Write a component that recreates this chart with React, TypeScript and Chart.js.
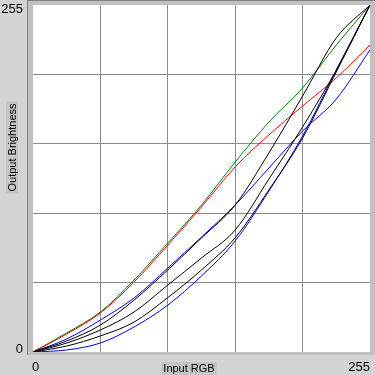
import React, { useEffect, useRef } from "react";
import { Chart, registerables } from "chart.js";

Chart.register(...registerables);

// Input RGB sample positions
const inputValues = [0, 25.5, 51, 76.5, 102, 127.5, 153, 178.5, 204, 229.5, 255];

// Output brightness for each curve
const greenCurve = [0, 14.0, 29.4, 52.9, 80.1, 108.0, 139.6, 169.0, 194.0, 225.6, 255];
const redCurve = [0, 13.2, 28.7, 51.4, 78.6, 106.6, 136.0, 159.5, 180.8, 201.4, 225.6];
const blueUpperCurve = [0, 9.6, 23.5, 39.7, 61.7, 84.5, 108.0, 135.2, 162.4, 185.9, 222];
const blueLowerCurve = [0, 1.5, 6.6, 18.4, 34.5, 55.9, 81.6, 118.3, 158.7, 207.2, 255];
const blackCurve1 = [0, 8.1, 19.8, 38.2, 60.3, 83.8, 108.0, 146.3, 188.1, 230.8, 255];
const blackCurve2 = [0, 6.6, 16.2, 29.4, 49.2, 69.1, 89.7, 127.1, 165.4, 207.2, 255];
const blackCurve3 = [0, 4.4, 11.8, 22.0, 40.0, 60.3, 84.0, 119.1, 157.3, 205.8, 255];

const axisTickLabels = ["0", "255"];
const xAxisTitle = "Input RGB";
const yAxisTitle = "Output Brightness";

const toPoints = (arr: number[]) => inputValues.map((x, i) => ({ x, y: arr[i] }));

const framePlugin = {
  id: "framePlugin",
  beforeDraw(chart: any) {
    const { ctx, chartArea, width, height } = chart;
    ctx.save();
    ctx.fillStyle = "#d4d4d4";
    ctx.fillRect(0, 0, width, height);
    ctx.fillStyle = "#c0c0c0";
    ctx.fillRect(chartArea.left - 6, 0, width - (chartArea.left - 6), chartArea.bottom + 3);
    ctx.fillStyle = "#808080";
    ctx.fillRect(chartArea.left - 6, 0, 1, chartArea.bottom + 3);
    ctx.fillRect(chartArea.left - 6, 0, width - (chartArea.left - 6), 1);
    ctx.fillStyle = "#ffffff";
    ctx.fillRect(chartArea.left, chartArea.top, chartArea.right - chartArea.left, chartArea.bottom - chartArea.top);
    ctx.restore();
  },
  afterDraw(chart: any) {
    const { ctx, scales } = chart;
    const xs = scales.x;
    const ys = scales.y;
    ctx.save();
    ctx.fillStyle = "#000000";
    ctx.font = "13px 'Liberation Sans'";
    ctx.textAlign = "right";
    ctx.textBaseline = "alphabetic";
    ctx.fillText(axisTickLabels[1], 23, ys.getPixelForValue(255) + 8);
    ctx.fillText(axisTickLabels[0], 23, ys.getPixelForValue(0) + 1);
    ctx.textAlign = "left";
    ctx.fillText(axisTickLabels[0], xs.getPixelForValue(0) - 1, 371);
    ctx.textAlign = "right";
    ctx.fillText(axisTickLabels[1], xs.getPixelForValue(255), 371);

    ctx.font = "11px 'Liberation Sans'";
    const xw = ctx.measureText(xAxisTitle).width;
    const xc = 189;
    ctx.fillStyle = "#c4c4c4";
    ctx.fillRect(xc - xw / 2 - 2, 362, xw + 4, 13);
    ctx.fillStyle = "#000000";
    ctx.textAlign = "center";
    ctx.textBaseline = "alphabetic";
    ctx.fillText(xAxisTitle, xc, 372);

    const yw = ctx.measureText(yAxisTitle).width;
    const yc = 147.5;
    ctx.fillStyle = "#c4c4c4";
    ctx.fillRect(6, yc - yw / 2 - 2, 12, yw + 4);
    ctx.translate(16, yc);
    ctx.rotate(-Math.PI / 2);
    ctx.fillStyle = "#000000";
    ctx.fillText(yAxisTitle, 0, 0);
    ctx.restore();
  },
};

const gridColor = (c: any) =>
  c.tick && (c.tick.value === 0 || c.tick.value === 255) ? "rgba(0,0,0,0)" : "#8c8c8c";

export default function App() {
  const canvasRef = useRef<HTMLCanvasElement | null>(null);

  useEffect(() => {
    if (!canvasRef.current) return;
    const mk = (label: string, data: number[], color: string) => ({
      label,
      data: toPoints(data),
      borderColor: color,
      backgroundColor: color,
      borderWidth: 1,
      pointRadius: 0,
      fill: false,
      cubicInterpolationMode: "monotone" as const,
    });
    const chart = new Chart(canvasRef.current, {
      type: "line",
      data: {
        datasets: [
          mk("black1", blackCurve1, "#000000"),
          mk("black2", blackCurve2, "#000000"),
          mk("black3", blackCurve3, "#000000"),
          mk("blueUpper", blueUpperCurve, "#0000ff"),
          mk("blueLower", blueLowerCurve, "#0000ff"),
          mk("red", redCurve, "#ff0000"),
          mk("green", greenCurve, "#008000"),
        ],
      },
      options: {
        animation: false,
        responsive: true,
        maintainAspectRatio: false,
        layout: { padding: { top: 5, right: 5, left: 0, bottom: 0 } },
        plugins: { legend: { display: false }, tooltip: { enabled: false } },
        scales: {
          x: {
            type: "linear",
            min: 0,
            max: 255,
            ticks: { display: false, stepSize: 51 },
            grid: { color: gridColor, drawTicks: false, lineWidth: 1 },
            border: { display: false },
            afterFit: (s: any) => {
              s.height = 23;
            },
          },
          y: {
            type: "linear",
            min: 0,
            max: 255,
            ticks: { display: false, stepSize: 51 },
            grid: { color: gridColor, drawTicks: false, lineWidth: 1 },
            border: { display: false },
            afterFit: (s: any) => {
              s.width = 33;
            },
          },
        },
      },
      plugins: [framePlugin],
    });
    return () => chart.destroy();
  }, []);

  return (
    <div style={{ position: "fixed", left: 0, top: 0, width: 375, height: 375 }}>
      <canvas ref={canvasRef} />
    </div>
  );
}
